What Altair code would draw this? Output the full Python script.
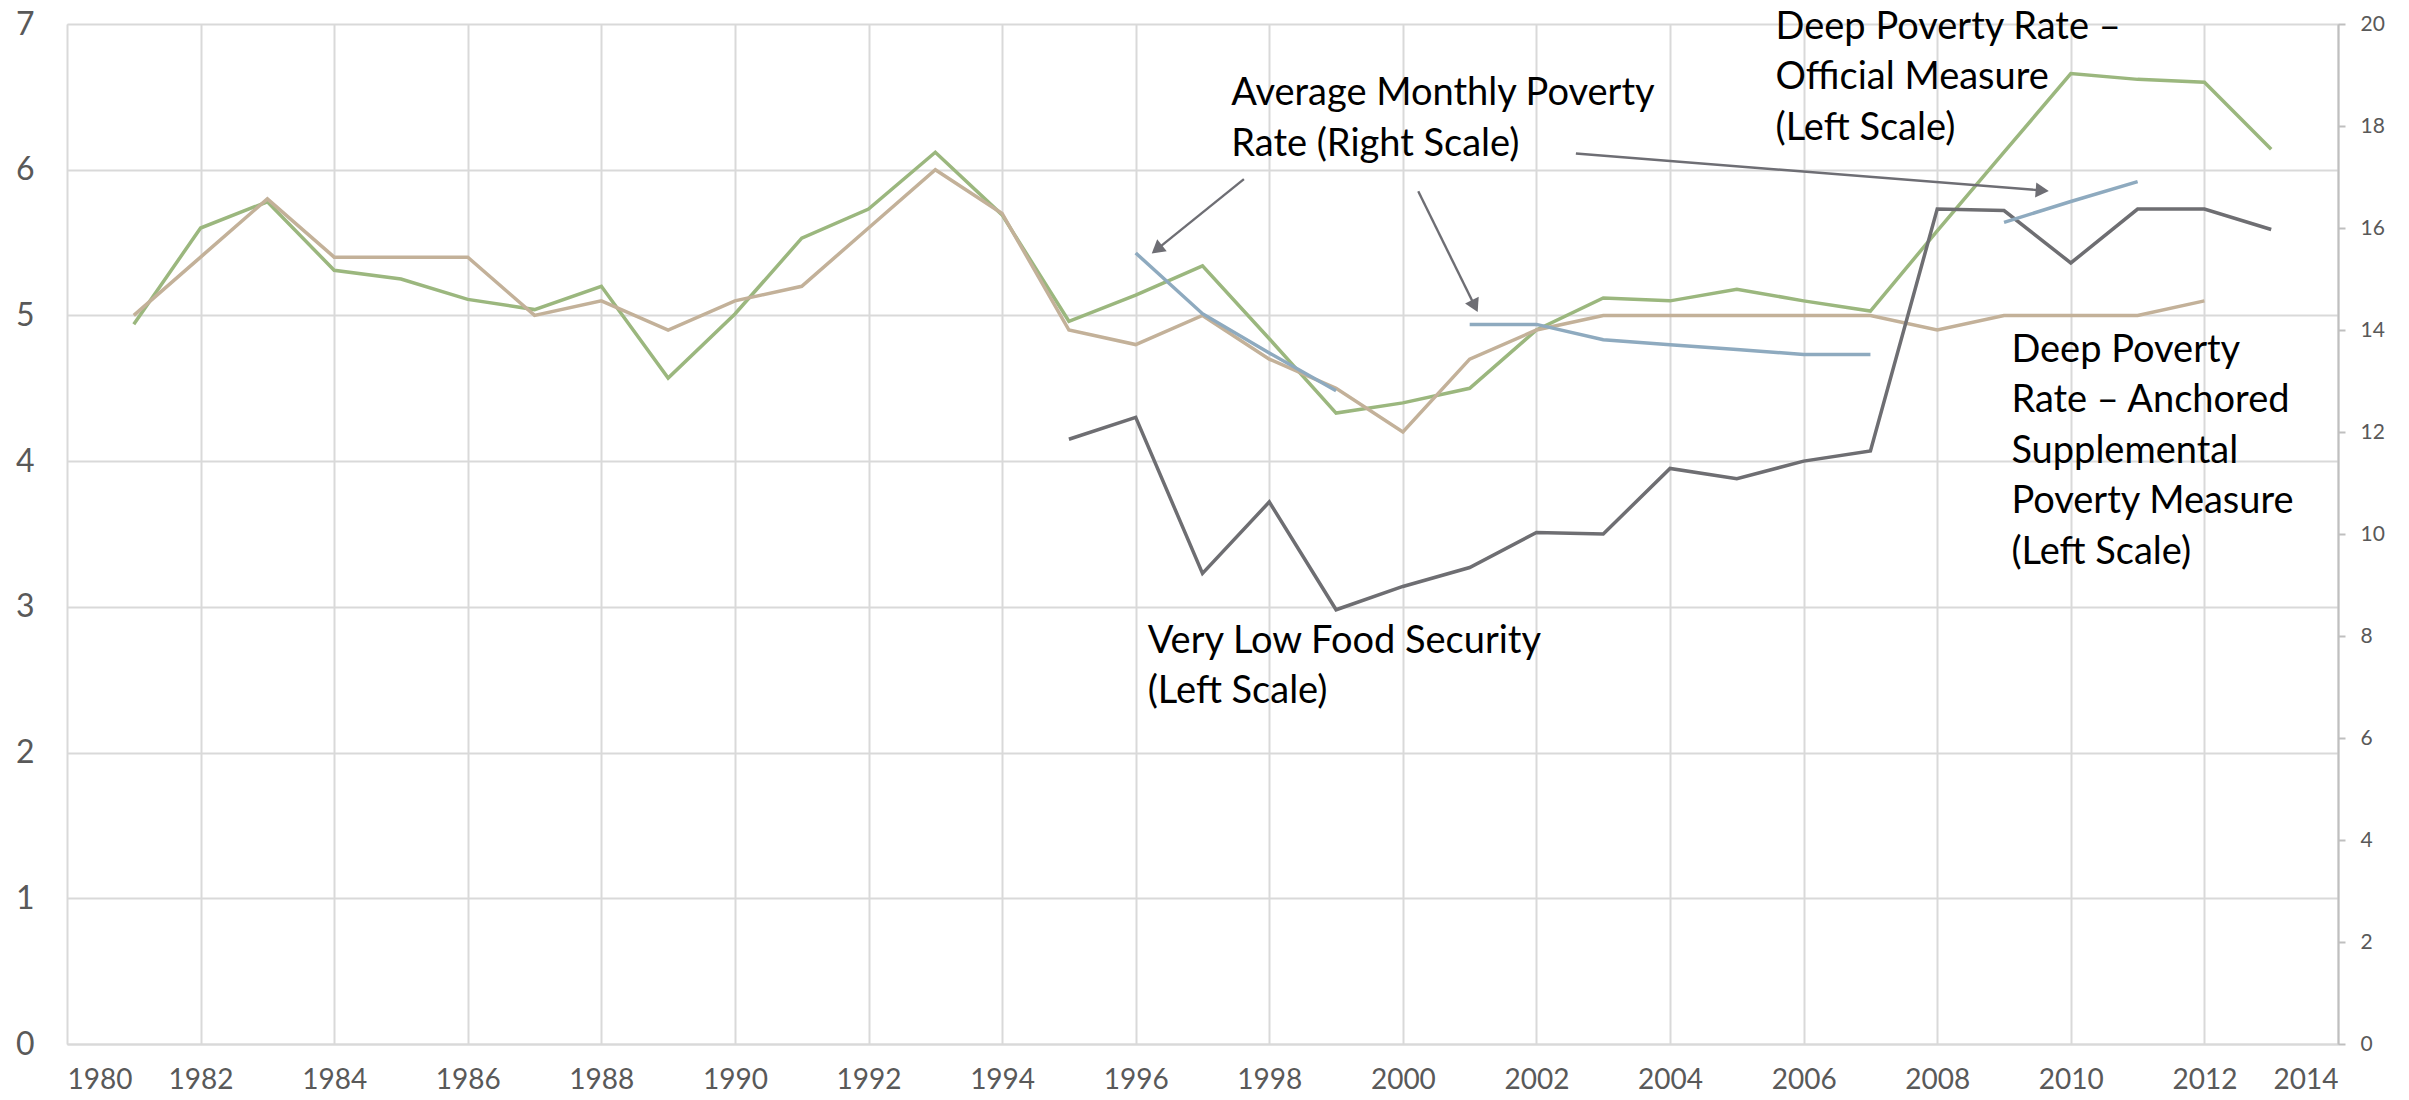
import math
import altair as alt
import pandas as pd

# ---------------- data ----------------
years_official = list(range(1981, 2014))
official = [4.94, 5.60, 5.78, 5.31, 5.25, 5.11, 5.04, 5.20, 4.57, 5.01, 5.53, 5.73,
            6.12, 5.69, 4.96, 5.14, 5.34, 4.84, 4.33, 4.40, 4.50, 4.90, 5.12, 5.10,
            5.18, 5.10, 5.03, 5.58, 6.12, 6.66, 6.62, 6.60, 6.14]

years_anchored = list(range(1981, 2013))
anchored = [5.0, 5.4, 5.8, 5.4, 5.4, 5.4, 5.0, 5.1, 4.9, 5.1, 5.2, 5.6,
            6.0, 5.7, 4.9, 4.8, 5.0, 4.7, 4.5, 4.2, 4.7, 4.9, 5.0, 5.0,
            5.0, 5.0, 5.0, 4.9, 5.0, 5.0, 5.0, 5.1]

years_food = list(range(1995, 2014))
food = [4.15, 4.30, 3.23, 3.72, 2.98, 3.14, 3.27, 3.51, 3.50, 3.95, 3.88, 4.00,
        4.07, 5.73, 5.72, 5.36, 5.73, 5.73, 5.59]

years_monthly = [1996, 1997, 1998, 1999, 2001, 2002, 2003, 2004, 2005, 2006, 2007,
                 2009, 2010, 2011]
monthly = [15.51, 14.32, 13.55, 12.81, 14.11, 14.11, 13.81, 13.71, 13.62, 13.52, 13.52,
           16.11, 16.52, 16.91]
monthly_panel = [1, 1, 1, 1, 2, 2, 2, 2, 2, 2, 2, 3, 3, 3]

x_ticks = list(range(1980, 2015, 2))
left_ticks = list(range(0, 8))
right_ticks = list(range(0, 21, 2))

labels = [
    (1997.43, 6.443, ["Average Monthly Poverty", "Rate (Right Scale)"]),
    (2005.58, 6.900, ["Deep Poverty Rate \u2013", "Official Measure", "(Left Scale)"]),
    (2009.11, 4.681, ["Deep Poverty", "Rate \u2013 Anchored", "Supplemental",
                      "Poverty Measure", "(Left Scale)"]),
    (1996.18, 2.686, ["Very Low Food Security", "(Left Scale)"]),
]

# arrows: (start year, start value, tip year, tip value) on the left scale
arrows = [
    (1997.62, 5.935, 1996.24, 5.425),
    (2000.23, 5.852, 2001.12, 5.024),
    (2002.59, 6.111, 2009.67, 5.854),
]

# ---------------- styling ----------------
W, H = 2271, 1020
FONT = "Lato"
GREEN = "#9bb77e"
TAN = "#c3b199"
GRAY = "#6e6e72"
BLUE = "#8eaabf"
ARROW = "#6e6e74"
LABEL = "#595959"
GRID = "#d9d9d9"
HEAD_SIZE = 230
LW = 3.5

x_enc = alt.X(
    "year:Q",
    scale=alt.Scale(domain=[1980, 2014], nice=False, zero=False),
    axis=alt.Axis(values=x_ticks, format="d", grid=True, gridColor=GRID, gridWidth=2,
                  ticks=False, domain=True, domainColor=GRID, domainWidth=2,
                  labelFont=FONT, labelFontSize=28, labelColor=LABEL, labelPadding=22,
                  title=None),
)
left_scale = alt.Scale(domain=[0, 7], nice=False, zero=True)
left_axis = alt.Axis(values=left_ticks, format="d", orient="left", grid=True,
                     gridColor=GRID, gridWidth=2, ticks=False, domain=False,
                     labelFont=FONT, labelFontSize=32, labelColor=LABEL,
                     labelPadding=33, title=None)
y_left = alt.Y("val:Q", scale=left_scale, axis=left_axis)

# ---------------- tables ----------------
df_off = pd.DataFrame({"year": years_official, "val": official})
df_anc = pd.DataFrame({"year": years_anchored, "val": anchored})
df_food = pd.DataFrame({"year": years_food, "val": food})
df_mon = pd.DataFrame({"year": years_monthly, "val": monthly, "seg": monthly_panel})
df_lab = pd.DataFrame({"year": [l[0] for l in labels], "val": [l[1] for l in labels],
                       "lines": [l[2] for l in labels]})

px_x = W / (2014 - 1980)
px_y = H / 7.0
half_h = math.sqrt(3) / 4 * math.sqrt(HEAD_SIZE)
rows = []
for sy, sv, ty, tv in arrows:
    dx = (ty - sy) * px_x
    dy = -(tv - sv) * px_y
    L = math.hypot(dx, dy)
    ux, uy = dx / L, dy / L
    ang = math.degrees(math.atan2(ux, -uy)) % 360
    cy = ty - half_h * ux / px_x
    cv = tv + half_h * uy / px_y
    rows.append({"year": sy, "val": sv, "year2": cy, "val2": cv,
                 "hy": cy, "hv": cv, "ang": ang})
df_arr = pd.DataFrame(rows)

# ---------------- marks ----------------
def line(df, color):
    return alt.Chart(df).mark_line(color=color, strokeWidth=LW).encode(x=x_enc, y=y_left)

l_off = line(df_off, GREEN)
l_anc = line(df_anc, TAN)
l_food = line(df_food, GRAY)

rules = alt.Chart(df_arr).mark_rule(color=ARROW, strokeWidth=2.4).encode(
    x=x_enc, y=y_left, x2="year2:Q", y2="val2:Q")
heads = alt.Chart(df_arr).mark_point(shape="triangle-up", filled=True, color=ARROW,
                                     opacity=1, size=HEAD_SIZE).encode(
    x=alt.X("hy:Q", scale=alt.Scale(domain=[1980, 2014], nice=False, zero=False)),
    y=alt.Y("hv:Q", scale=left_scale),
    angle=alt.Angle("ang:Q", scale=None))
texts = alt.Chart(df_lab).mark_text(align="left", baseline="alphabetic", font=FONT,
                                    fontSize=38, lineHeight=50.5, color="black").encode(
    x=x_enc, y=y_left, text="lines:N")

left_group = alt.layer(l_off, l_anc, l_food, rules, heads, texts)

right = alt.Chart(df_mon).mark_line(color=BLUE, strokeWidth=LW).encode(
    x=x_enc,
    y=alt.Y("val:Q", scale=alt.Scale(domain=[0, 20], nice=False, zero=True),
            axis=alt.Axis(values=right_ticks, orient="right", grid=False, ticks=True,
                          tickSize=7, tickColor="#bfbfbf", tickWidth=2, domain=True,
                          domainColor="#bfbfbf", domainWidth=2, labelFont=FONT,
                          labelFontSize=21, labelColor=LABEL, labelPadding=15,
                          title=None)),
    detail="seg:N")

chart = alt.layer(left_group, right).resolve_scale(y="independent").properties(
    width=W, height=H,
    autosize=alt.AutoSizeParams(type="none"),
    padding={"left": 59, "top": 16, "right": 60, "bottom": 54},
).configure_view(strokeWidth=0).configure(background="white")

chart.save("out.html", embed_options={"renderer": "svg", "actions": False})
